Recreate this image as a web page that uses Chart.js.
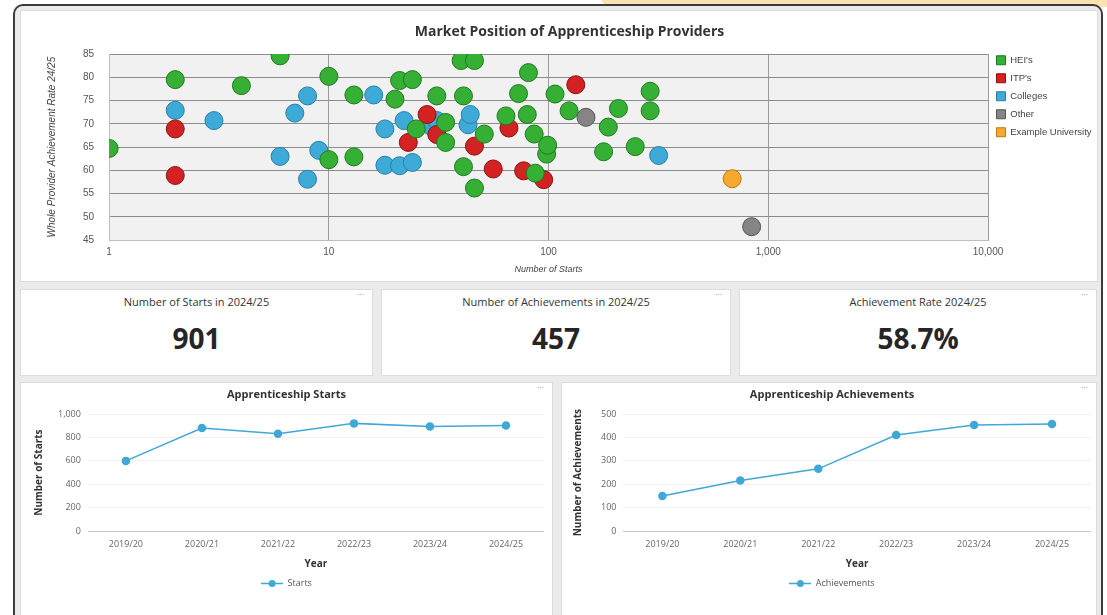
<!DOCTYPE html>
<html>
<head>
<meta charset="utf-8">
<title>Apprenticeship dashboard</title>
<script src="https://cdn.jsdelivr.net/npm/chart.js@4.4.1/dist/chart.umd.min.js"></script>
<style>
  html, body { margin: 0; padding: 0; background: #fff; width: 1107px; height: 615px; overflow: hidden; font-family: "Open Sans", sans-serif; }
  .tab   { position: absolute; left: 600px; top: -12px; width: 520px; height: 19px; background: #fbe3b1; border-radius: 0 0 0 12px; }
  .frame { position: absolute; left: 13px; top: 4px; width: 1086px; height: 640px; border: 2px solid #3b3b3b; border-radius: 10px; background: #ebebeb; }
  .card  { position: absolute; background: #fff; border: 1px solid #dcdcdc; box-sizing: border-box; }
  .card .wrap { position: absolute; left: 0; top: 0; width: 100%; height: 100%; }
  .dots  { position: absolute; right: 8px; top: 0px; font-size: 9px; color: #9a9a9a; line-height: 9px; }
  .kpi-title { position: absolute; left: 0; right: 0; top: 4px; text-align: center; font-size: 11px; color: #333; }
  .kpi-value { position: absolute; left: 0; right: 0; top: 29px; text-align: center; font-size: 28px; font-weight: 700; color: #252525; }
</style>
</head>
<body>
<div class="tab"></div>
<div class="frame"></div>

<div class="card" style="left:20px; top:10px; width:1078px; height:272px;">
  <div class="wrap"><canvas id="scatter"></canvas></div>
</div>

<div class="card" style="left:20px; top:289px; width:353px; height:87px;">
  <div class="dots">···</div>
  <div class="kpi-title" id="kpi1-title"></div>
  <div class="kpi-value" id="kpi1-value"></div>
</div>
<div class="card" style="left:381px; top:289px; width:350px; height:87px;">
  <div class="dots">···</div>
  <div class="kpi-title" id="kpi2-title"></div>
  <div class="kpi-value" id="kpi2-value"></div>
</div>
<div class="card" style="left:739px; top:289px; width:358px; height:87px;">
  <div class="dots">···</div>
  <div class="kpi-title" id="kpi3-title"></div>
  <div class="kpi-value" id="kpi3-value"></div>
</div>

<div class="card" style="left:20px; top:382px; width:533px; height:240px;">
  <div class="dots">···</div>
  <div class="wrap" style="height:233px;"><canvas id="starts"></canvas></div>
</div>
<div class="card" style="left:561px; top:382px; width:536px; height:240px;">
  <div class="dots">···</div>
  <div class="wrap" style="height:233px;"><canvas id="achievements"></canvas></div>
</div>

<script>
// ── Scatter data: number of starts vs achievement rate, per provider type ──
const heiStarts = [1, 2, 4, 6, 10, 10, 13, 13, 20, 21, 24, 25, 31, 34, 34, 40, 41, 41, 46, 46,
                   51, 64, 73, 80, 81, 86, 87, 98, 99, 107, 124, 178, 187, 208, 248, 290, 290];
const heiRates  = [64.7, 79.5, 78.2, 84.6, 80.2, 62.3, 76.2, 62.9, 75.3, 79.3, 79.5, 68.9, 76, 70.3, 66, 83.6, 76, 60.8, 83.6, 56.2,
                   67.8, 71.7, 76.5, 72, 81, 67.8, 59.4, 63.5, 65.4, 76.4, 72.8, 64, 69.3, 73.3, 65.1, 77, 72.8];

const itpStarts = [2, 2, 23, 28, 31, 46, 56, 66, 77, 95, 133];
const itpRates  = [68.9, 58.9, 66, 72, 67.7, 65.2, 60.3, 69.1, 59.9, 58, 78.4];

const collegeStarts = [2, 3, 6, 7, 8, 8, 9, 16, 18, 18, 21, 22, 24, 29, 31, 43, 44, 317];
const collegeRates  = [72.9, 70.7, 63, 72.3, 76, 58.1, 64.3, 76.2, 68.9, 61.1, 61, 70.7, 61.7, 69.6, 70.7, 69.8, 72, 63.2];

const otherStarts = [148, 840];
const otherRates  = [71.4, 47.9];

const exampleStarts = [685];
const exampleRates  = [58.2];

const startTicks = [1, 10, 100, 1000, 10000];

// ── Yearly series ──
const years        = ['2019/20', '2020/21', '2021/22', '2022/23', '2023/24', '2024/25'];
const starts       = [600, 880, 832, 920, 893, 901];
const achievements = [150, 216, 266, 410, 453, 457];

// ── KPI cards ──
const kpiTitles = ['Number of Starts in 2024/25', 'Number of Achievements in 2024/25', 'Achievement Rate 2024/25'];
const kpiValues = ['901', '457', '58.7%'];

kpiTitles.forEach((t, i) => {
  document.getElementById(`kpi${i + 1}-title`).textContent = t;
  document.getElementById(`kpi${i + 1}-value`).textContent = kpiValues[i];
});

const points = (xs, ys) => xs.map((x, i) => ({ x, y: ys[i] }));

const plotBg = {
  id: 'plotBg',
  beforeDraw(chart) {
    const { ctx, chartArea: a } = chart;
    ctx.save();
    ctx.fillStyle = '#f1f1f1';
    ctx.fillRect(a.left, a.top, a.width, a.height);
    ctx.restore();
  },
};

function dot(label, xs, ys, fill, stroke) {
  return {
    label,
    data: points(xs, ys),
    backgroundColor: fill,
    borderColor: stroke,
    borderWidth: 1,
    pointRadius: 9,
    pointHoverRadius: 9,
  };
}

// ── Market position scatter ────────────────────────────────
new Chart(document.getElementById('scatter'), {
  type: 'scatter',
  data: {
    datasets: [
      dot("HEI's", heiStarts, heiRates, '#35b035', '#1f7a1f'),
      dot("ITP's", itpStarts, itpRates, '#d42222', '#8a1212'),
      dot('Colleges', collegeStarts, collegeRates, '#3eaad8', '#2a7fa5'),
      dot('Other', otherStarts, otherRates, '#858585', '#555'),
      dot('Example University', exampleStarts, exampleRates, '#f6a92c', '#b97a12'),
    ],
  },
  options: {
    responsive: true,
    maintainAspectRatio: false,
    animation: false,
    layout: { padding: { left: 21, right: 0, top: 0, bottom: 6 } },
    plugins: {
      title: {
        display: true,
        text: 'Market Position of Apprenticeship Providers',
        color: '#333',
        font: { family: 'Open Sans', size: 14, weight: 'bold' },
        padding: { top: 12.6, bottom: 13.6 },
      },
      legend: {
        position: 'right',
        align: 'start',
        maxWidth: 109,
        title: { display: true, text: ' ', font: { size: 10 }, padding: { top: 24, bottom: 0 } },
        labels: {
          boxWidth: 9, boxHeight: 9, padding: 8.5, color: '#444',
          font: { family: 'Liberation Sans', size: 9.5 },
        },
      },
      tooltip: { enabled: false },
    },
    scales: {
      x: {
        type: 'logarithmic',
        min: 1,
        max: 10000,
        afterBuildTicks: s => { s.ticks = startTicks.map(v => ({ value: v })); },
        ticks: {
          callback: v => Number(v).toLocaleString('en-US'),
          color: '#555', padding: 6, maxRotation: 0, autoSkip: false,
          font: { family: 'Liberation Sans', size: 10 },
        },
        grid: { color: '#9a9a9a', drawTicks: false },
        border: { color: '#bdbdbd' },
        title: {
          display: true, text: 'Number of Starts', color: '#444',
          font: { family: 'Liberation Sans', size: 9, style: 'italic' },
          padding: { top: 0, bottom: 0 },
        },
      },
      y: {
        min: 45,
        max: 85,
        ticks: { stepSize: 5, color: '#555', padding: 15, font: { family: 'Liberation Sans', size: 10 } },
        grid: { color: '#8c8c8c', drawTicks: false },
        border: { color: '#bdbdbd' },
        title: {
          display: true, text: 'Whole Provider Achievement Rate 24/25', color: '#444',
          font: { family: 'Liberation Sans', size: 10, style: 'italic' },
          padding: { top: 4, bottom: 10 },
        },
      },
    },
  },
  plugins: [plotBg],
});

// ── Yearly line charts ─────────────────────────────────────
const LINE_BLUE = '#40a8d6';

function legendIcon(color) {
  const c = document.createElement('canvas');
  c.width = 22; c.height = 9;
  const g = c.getContext('2d');
  g.strokeStyle = color; g.lineWidth = 1.5;
  g.beginPath(); g.moveTo(0, 4.5); g.lineTo(22, 4.5); g.stroke();
  g.fillStyle = color;
  g.beginPath(); g.arc(11, 4.5, 3.5, 0, Math.PI * 2); g.fill();
  return c;
}

function yearlyChart(id, title, yTitle, label, values, yMax, yStep, pad) {
  const axisFont = { family: 'Open Sans', size: 9 };
  const boldFont = { family: 'Open Sans', size: 10, weight: 'bold' };
  return new Chart(document.getElementById(id), {
    type: 'line',
    data: {
      labels: years,
      datasets: [{
        label,
        data: values,
        borderColor: LINE_BLUE,
        backgroundColor: LINE_BLUE,
        borderWidth: 1.5,
        pointRadius: 3.5,
        pointHoverRadius: 3.5,
        tension: 0,
      }],
    },
    options: {
      responsive: true,
      maintainAspectRatio: false,
      animation: false,
      layout: { padding: pad },
      plugins: {
        title: {
          display: true, text: title, color: '#333',
          font: { family: 'Open Sans', size: 11, weight: 'bold' },
          padding: { top: 5.4, bottom: 12.4 },
        },
        legend: {
          position: 'bottom',
          labels: {
            usePointStyle: true,
            pointStyleWidth: 22,
            color: '#555',
            font: axisFont,
            padding: 9,
            generateLabels: chart => Chart.defaults.plugins.legend.labels.generateLabels(chart)
              .map(l => ({ ...l, pointStyle: legendIcon(LINE_BLUE) })),
          },
        },
        tooltip: { enabled: false },
      },
      scales: {
        x: {
          offset: true,
          grid: { display: false, drawTicks: false },
          border: { display: false },
          ticks: { color: '#666', font: axisFont, padding: 8, maxRotation: 0 },
          title: { display: true, text: 'Year', color: '#333', font: boldFont, padding: { top: 0, bottom: 0 } },
        },
        y: {
          min: 0,
          max: yMax,
          ticks: { stepSize: yStep, color: '#666', font: axisFont, padding: 7 },
          grid: { drawTicks: false, color: c => (c.tick && c.tick.value === 0 ? '#c8c8c8' : '#f1f1f1') },
          border: { display: false },
          title: { display: true, text: yTitle, color: '#333', font: boldFont, padding: pad.yTitle },
        },
      },
    },
  });
}

yearlyChart('starts', 'Apprenticeship Starts', 'Number of Starts', 'Starts', starts, 1000, 200,
  { left: 8, right: 8, top: 0, bottom: 18, yTitle: { top: 4.6, bottom: 5.4 } });
yearlyChart('achievements', 'Apprenticeship Achievements', 'Number of Achievements', 'Achievements', achievements, 500, 100,
  { left: 6, right: 0, top: 0, bottom: 18, yTitle: { top: 4, bottom: 10 } });
</script>
</body>
</html>
